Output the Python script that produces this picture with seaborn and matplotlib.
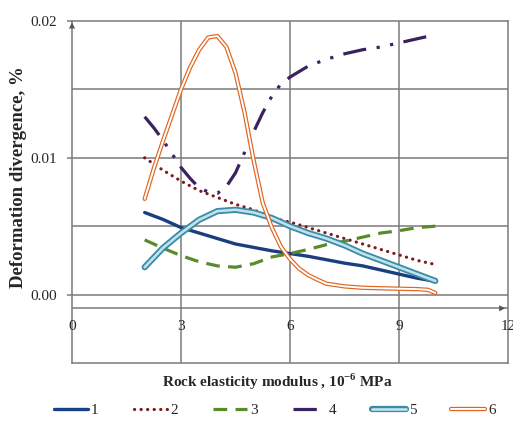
import matplotlib
matplotlib.use("Agg")
import pandas as pd
import seaborn as sns
import matplotlib.pyplot as plt
import matplotlib.patheffects as pe
from matplotlib.lines import Line2D

# ---- data ----
x_vals = [2, 2.5, 3, 3.5, 4, 4.5, 5, 5.5, 6, 6.5, 7, 7.5, 8, 8.5, 9, 9.5, 10]
s1 = [0.0060, 0.0055, 0.0049, 0.0045, 0.0041, 0.0037, 0.00345, 0.0032, 0.0030,
      0.0028, 0.00255, 0.0023, 0.0021, 0.0018, 0.0015, 0.0012, 0.00097]
s2 = [0.0100, 0.0091, 0.0083, 0.0076, 0.0071, 0.0066, 0.0062, 0.0056, 0.0053,
      0.0049, 0.0045, 0.0041, 0.0037, 0.0033, 0.0029, 0.0025, 0.0022]
s3 = [0.0040, 0.0034, 0.00285, 0.0024, 0.0021, 0.0020, 0.00226, 0.00275, 0.0030,
      0.0033, 0.00365, 0.0039, 0.0042, 0.0045, 0.00467, 0.0049, 0.0050]
s5 = [0.0020, 0.0034, 0.0045, 0.00547, 0.0061, 0.0062, 0.0060, 0.0056, 0.0050,
      0.0045, 0.0041, 0.0036, 0.0030, 0.0025, 0.0020, 0.0015, 0.0010]

x4 = [2, 2.25, 2.5, 2.75, 3, 3.25, 3.5, 3.75, 4, 4.25, 4.5, 4.75, 5, 5.25, 5.5,
      5.75, 6, 6.5, 7, 7.5, 8, 8.5, 9, 9.5, 10]
s4 = [0.0130, 0.0122, 0.0113, 0.0103, 0.0093, 0.0085, 0.0078, 0.0075, 0.0074,
      0.0079, 0.0089, 0.0104, 0.0119, 0.0133, 0.0145, 0.0154, 0.0159, 0.0167,
      0.0172, 0.0176, 0.0179, 0.0181, 0.0184, 0.0187, 0.0190]

x6 = [2, 2.25, 2.5, 2.75, 3, 3.25, 3.5, 3.75, 4, 4.25, 4.5, 4.75, 5, 5.25, 5.5,
      5.75, 6, 6.25, 6.5, 6.75, 7, 7.5, 8, 9, 9.5, 9.8, 10]
s6 = [0.0070, 0.0092, 0.0112, 0.0131, 0.0150, 0.0166, 0.0179, 0.0188, 0.0189,
      0.0181, 0.0162, 0.0133, 0.0098, 0.0067, 0.0049, 0.0035, 0.0026, 0.0019,
      0.00143, 0.0011, 0.0008, 0.0006, 0.0005, 0.00043, 0.0004, 0.00035, 0.00012]

series_labels = ["1", "2", "3", "4", "5", "6"]
x_ticks = [0, 3, 6, 9, 12]
y_ticks = [0.0, 0.01, 0.02]

sns.set_theme(style="white")
plt.rcParams["font.family"] = ["Liberation Serif", "DejaVu Serif"]
plt.rcParams["mathtext.fontset"] = "custom"
plt.rcParams["mathtext.rm"] = "Liberation Serif"
plt.rcParams["mathtext.bf"] = "Liberation Serif:bold"

W, H = 513, 421
fig = plt.figure(figsize=(W / 100, H / 100), dpi=100)
ax = fig.add_axes([72 / W, 1 - 363 / H, (508 - 72) / W, (363 - 21) / H])
ax.set_facecolor("white")

gc = "#7a7a7a"
ax.set_xlim(0, 12)
ax.set_ylim(-0.005, 0.02)
for gy in [0.0, 0.005, 0.01, 0.015]:
    ax.axhline(gy, color=gc, lw=1.1, zorder=0)
for gx in [3, 6, 9]:
    ax.axvline(gx, color=gc, lw=1.1, zorder=0)
ax.axhline(-0.001, color=gc, lw=1.1, zorder=0)
for sp in ax.spines.values():
    sp.set_color(gc)
    sp.set_linewidth(1.1)

# arrows
ax.annotate("", xy=(0, 0.0201), xytext=(0, 0.0185),
            arrowprops=dict(arrowstyle="-|>", color="#555555", lw=0, mutation_scale=11),
            annotation_clip=False)
ax.annotate("", xy=(12.0, -0.001), xytext=(11.4, -0.001),
            arrowprops=dict(arrowstyle="-|>", color="#555555", lw=0, mutation_scale=11),
            annotation_clip=False)

df = pd.DataFrame({"x": x_vals, "s1": s1, "s2": s2, "s3": s3, "s5": s5})
df4 = pd.DataFrame({"x": x4, "s4": s4})
df6 = pd.DataFrame({"x": x6, "s6": s6})

c1, c2, c3, c4 = "#1a3f80", "#7a1c1c", "#5b8a2a", "#3a2160"
c5o, c5i = "#3b8aa6", "#bfe2ec"
c6o, c6i = "#e2631d", "#ffffff"

sty1 = dict(color=c1, lw=2.4, linestyle="-")
sty2 = dict(color=c2, lw=2.3, linestyle=(0, (0.05, 2.0)), dash_capstyle="round")
sty3 = dict(color=c3, lw=2.3, linestyle=(0, (4.3, 2.6)))
sty4 = dict(color=c4, lw=2.3, linestyle=(0, (7.3, 3.3, 1.0, 3.3, 1.0, 3.3)))
sty5 = dict(color=c5i, lw=1.9, linestyle="-", solid_capstyle="round",
            path_effects=[pe.Stroke(linewidth=4.5, foreground=c5o, capstyle="round"),
                          pe.Normal()])
sty6 = dict(color=c6i, lw=1.4, linestyle="-",
            path_effects=[pe.Stroke(linewidth=3.1, foreground=c6o), pe.Normal()])

sns.lineplot(data=df, x="x", y="s1", ax=ax, estimator=None, **sty1)
sns.lineplot(data=df, x="x", y="s2", ax=ax, estimator=None, **sty2)
sns.lineplot(data=df, x="x", y="s3", ax=ax, estimator=None, **sty3)
sns.lineplot(data=df4, x="x", y="s4", ax=ax, estimator=None, **sty4)
sns.lineplot(data=df, x="x", y="s5", ax=ax, estimator=None, **sty5)
sns.lineplot(data=df6, x="x", y="s6", ax=ax, estimator=None, **sty6)

ax.set_xlabel("")
ax.set_ylabel("")
ax.set_xticks([])
ax.set_yticks(y_ticks)
ax.set_yticklabels([f"{v:.2f}" for v in y_ticks], fontsize=11)
ax.tick_params(axis="y", direction="out", length=3.5, width=1.1, color=gc, pad=7, left=True)
for xv in x_ticks:
    ax.text(xv, -0.0023, str(xv), ha="center", va="center", fontsize=11, clip_on=False)

fig.text(19 / W, 1 - 177 / H, "Deformation divergence, %", rotation=90,
         ha="center", va="center", fontsize=13.5, fontweight="bold")
fig.text(277 / W, 1 - 382 / H, r"Rock elasticity modulus , 10$^{\mathbf{-6}}$ MPa",
         ha="center", va="center", fontsize=11, fontweight="bold")

handles = [Line2D([], [], **s) for s in (sty1, sty2, sty3, sty4, sty5, sty6)]
fig.legend(handles, series_labels, loc="center", bbox_to_anchor=(275 / W, 1 - 410 / H),
           ncol=6, frameon=False, fontsize=11, handlelength=2.2, handletextpad=0.2,
           columnspacing=2.3)

fig.savefig("out.png", dpi=100, facecolor="white")
